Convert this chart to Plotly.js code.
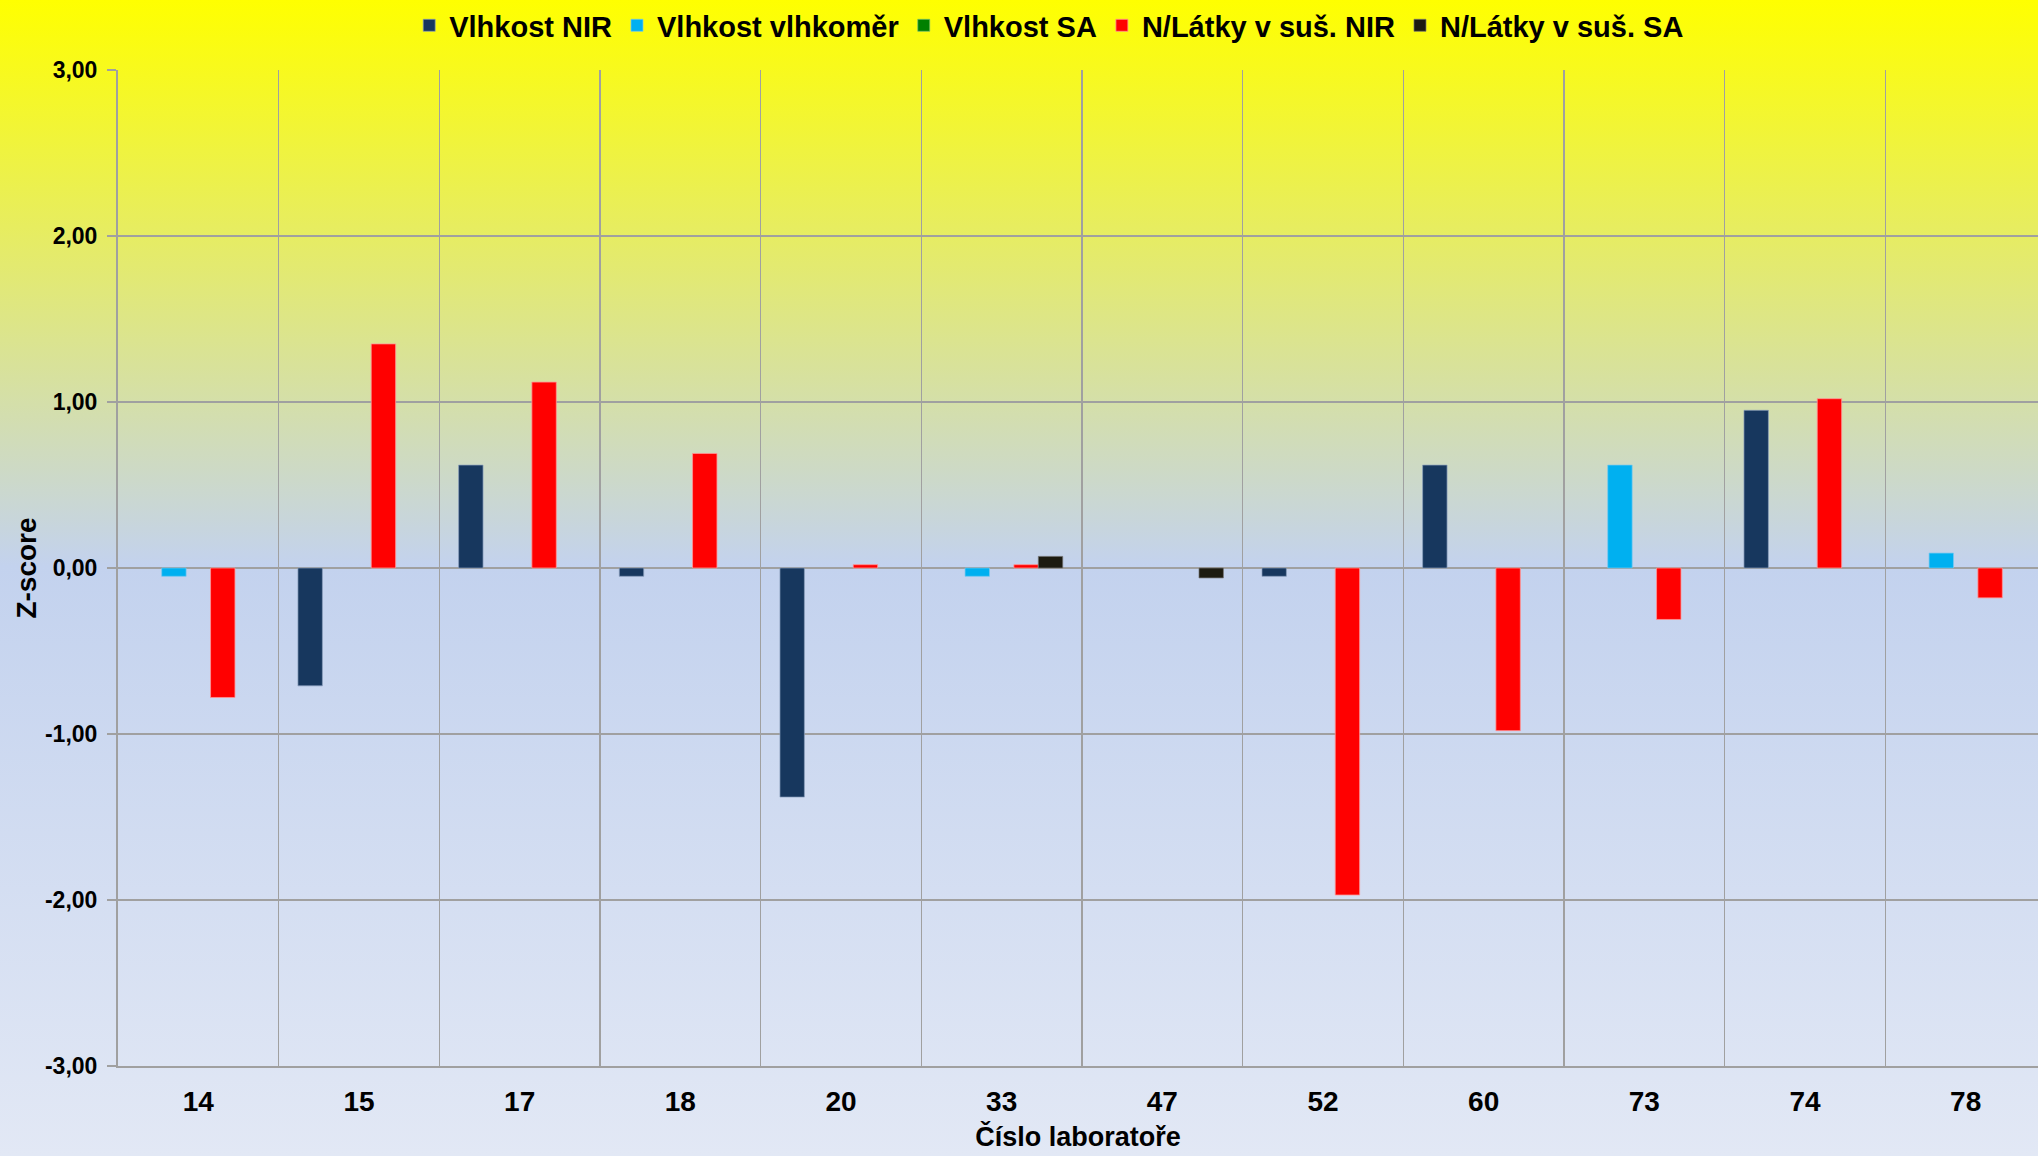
<!DOCTYPE html>
<html>
<head>
<meta charset="utf-8">
<script src="https://cdn.plot.ly/plotly-3.0.1.min.js"></script>
<style>
  html, body { margin: 0; padding: 0; }
  #chart {
    width: 2038px; height: 1156px;
    background: linear-gradient(to bottom, #FFFF00 0%, #C3D2EE 49%, #E2E8F5 100%);
  }
</style>
</head>
<body>
<div id="chart"></div>
<script>
// Category labels (laboratory numbers)
const labs = ["14", "15", "17", "18", "20", "33", "47", "52", "60", "73", "74", "78"];

// Series values (Z-score), null = no bar
const vlhkostNIR      = [null, -0.71, 0.62, -0.05, -1.38, null, null, -0.05, 0.62, null, 0.95, null];
const vlhkostVlhkomer = [-0.05, null, null, null, null, -0.05, null, null, null, 0.62, null, 0.09];
const vlhkostSA       = [null, null, null, null, null, null, null, null, null, null, null, null];
const latkyNIR        = [-0.78, 1.35, 1.12, 0.69, 0.02, 0.02, null, -1.97, -0.98, -0.31, 1.02, -0.18];
const latkySA         = [null, null, null, null, null, 0.07, -0.06, null, null, null, null, null];

const seriesNames = ["Vlhkost NIR", "Vlhkost vlhkoměr", "Vlhkost SA", "N/Látky v suš. NIR", "N/Látky v suš. SA"];
const seriesColors = ["#17375E", "#00B0F0", "#008000", "#FF0000", "#1D1B10"];
const seriesLines = ["rgba(140,160,190,0.7)", "rgba(120,200,240,0.7)", "rgba(120,190,120,0.7)", "rgba(255,150,150,0.8)", "rgba(120,120,120,0.7)"];
const seriesValues = [vlhkostNIR, vlhkostVlhkomer, vlhkostSA, latkyNIR, latkySA];

// Y tick labels
const yTickVals = [-3, -2, -1, 0, 1, 2, 3];
const yTickText = ["-3,00", "-2,00", "-1,00", "0,00", "1,00", "2,00", "3,00"];

const traces = seriesValues.map((vals, i) => ({
  type: "bar",
  name: seriesNames[i],
  x: labs,
  y: vals,
  marker: { color: seriesColors[i], line: { color: seriesLines[i], width: 1 } },
  hoverinfo: "x+y+name"
}));

const FONT = "Liberation Sans, Arial, sans-serif";
const GRID = "#A0A0A0";

const layout = {
  width: 2038, height: 1156,
  paper_bgcolor: "rgba(0,0,0,0)",
  plot_bgcolor: "rgba(0,0,0,0)",
  margin: { l: 118, r: 0, t: 70, b: 90 },
  barmode: "group",
  bargap: 0.24,
  bargroupgap: 0,
  font: { family: FONT, color: "#000000" },
  showlegend: true,
  legend: {
    orientation: "h",
    x: 0.485, xanchor: "center",
    yref: "container", y: 0.978, yanchor: "middle",
    font: { family: FONT, size: 29, color: "#000000", weight: "bold" },
    bgcolor: "rgba(0,0,0,0)",
    itemwidth: 30,
    tracegroupgap: 0
  },
  xaxis: {
    type: "category",
    range: [-0.5, 11.45],
    tickson: "boundaries",
    showgrid: true,
    gridcolor: GRID,
    gridwidth: 1.5,
    ticks: "",
    showline: true,
    linecolor: GRID,
    linewidth: 2,
    ticklabelstandoff: 9,
    tickfont: { family: FONT, size: 28, weight: "bold", color: "#000000" },
    title: {
      text: "Číslo laboratoře",
      font: { family: FONT, size: 27, weight: "bold", color: "#000000" },
      standoff: 12
    },
    fixedrange: true
  },
  yaxis: {
    range: [-3, 3],
    tickvals: yTickVals,
    ticktext: yTickText,
    showgrid: true,
    gridcolor: GRID,
    gridwidth: 2,
    zeroline: true,
    zerolinecolor: GRID,
    zerolinewidth: 2,
    showline: true,
    linecolor: GRID,
    linewidth: 2,
    ticks: "outside",
    ticklen: 9,
    tickcolor: GRID,
    tickwidth: 2,
    ticklabelstandoff: 5,
    tickfont: { family: FONT, size: 23, weight: "bold", color: "#000000" },
    title: {
      text: "Z-score",
      font: { family: FONT, size: 28, weight: "bold", color: "#000000" },
      standoff: 0
    },
    fixedrange: true
  }
};

Plotly.newPlot("chart", traces, layout, { displayModeBar: false, staticPlot: true });
</script>
</body>
</html>
